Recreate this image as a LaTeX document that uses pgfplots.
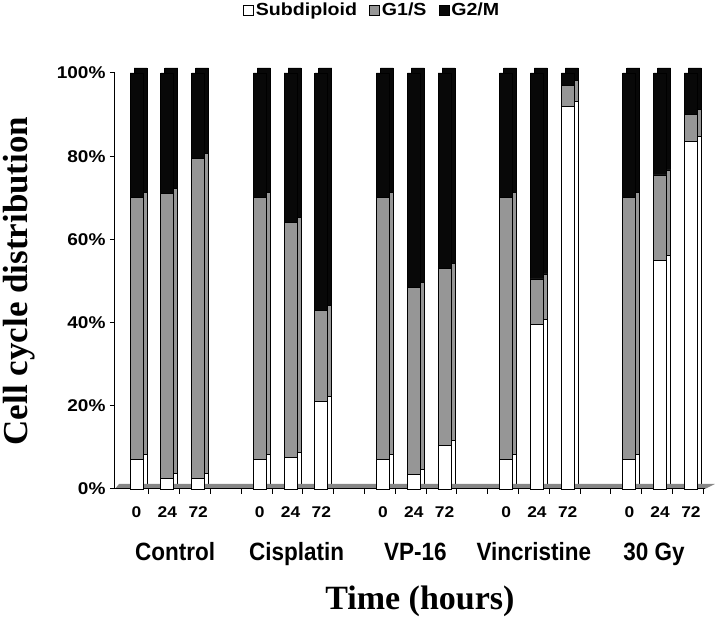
\documentclass[border=0pt]{standalone}
\usepackage{pgfplots}
\pgfplotsset{compat=1.18}
\usepackage{fontspec}
\setmainfont{Liberation Serif}
\newfontfamily\sfnar[FakeStretch=0.9]{Liberation Sans}
\newfontfamily\sfwide[FakeStretch=1.12]{Liberation Sans}
\definecolor{midgray}{RGB}{150,150,150}
\definecolor{nearblack}{RGB}{8,8,8}
\definecolor{floorgray}{RGB}{135,135,135}
\pgfplotstableread{
x   sub   g1s   g2m
0   7     63    30
1   2.5   68.5  29
2   2.5   77    20.5
4   7     63    30
5   7.5   56.5  36
6   21    22    57
8   7     63    30
9   3.5   45    51.5
10  10.5  42.5  47
12  7     63    30
13  39.5  11    49.5
14  92    5     3
16  7     63    30
17  55    20.5  24.5
18  83.5  6.5   10
}\cyc
\pgfplotsset{
  common/.style={
    scale only axis, width=589.8pt, height=416pt,
    xmin=-0.7, xmax=18.45, ymin=0, ymax=100,
    clip=false, ybar stacked, bar width=13pt,
    every axis plot/.append style={draw=black, line width=0.8pt},
  }
}
\begin{document}
\begin{tikzpicture}
\path[use as bounding box] (0pt,0pt) rectangle (720pt,623pt);
% back faces (3D depth)
\begin{axis}[common, at={(119pt,139pt)}, anchor=south west, hide axis]
\fill[floorgray] ([xshift=-4pt,yshift=-5pt]axis cs:-0.7,0) -- ([xshift=-4pt,yshift=-5pt]axis cs:18.45,0) -- ([xshift=6pt]axis cs:18.45,0) -- (axis cs:-0.7,0) -- cycle;
\addplot[fill=white] table[x=x,y=sub] {\cyc};
\addplot[fill=midgray] table[x=x,y=g1s] {\cyc};
\addplot[fill=nearblack] table[x=x,y=g2m] {\cyc};
\end{axis}
% front faces
\begin{axis}[common,
  at={(115pt,134pt)}, anchor=south west,
  axis x line=bottom, axis y line=left,
  axis line style={-, line width=1pt},
  xtick={0.4,1.4,...,18.4}, xticklabels={},
  extra x ticks={0,1,2,4,5,6,8,9,10,12,13,14,16,17,18},
  extra x tick labels={0,24,72,0,24,72,0,24,72,0,24,72,0,24,72},
  extra x tick style={major tick length=0pt, tick label style={font=\sfwide\bfseries\fontsize{15.5}{17}\selectfont, anchor=base, yshift=-29pt}},
  ytick={0,20,40,60,80,100},
  yticklabel={\pgfmathprintnumber{\tick}\%},
  /pgf/number format/assume math mode=true,
  tick style={black, line width=1pt},
  tick align=outside, major tick length=5pt,
  y tick label style={font=\sfwide\bfseries\fontsize{17}{19}\selectfont, xshift=-1pt},
  ylabel={\textbf{Cell cycle distribution}},
  ylabel style={font=\fontsize{35}{38}\selectfont, at={(axis description cs:-0.1625,0.50)}, anchor=center},
  legend columns=3,
  legend style={at={(axis description cs:0.436,1.151)}, anchor=center, draw=none, fill=none,
    font=\sfwide\bfseries\fontsize{17.5}{19}\selectfont,
    /tikz/every even column/.append style={column sep=10pt}},
  legend image code/.code={\draw[#1,draw=black,line width=0.8pt] (0pt,-5pt) rectangle (10pt,5pt);},
]
\addplot[fill=white] table[x=x,y=sub] {\cyc};
\addplot[fill=midgray] table[x=x,y=g1s] {\cyc};
\addplot[fill=nearblack] table[x=x,y=g2m] {\cyc};
\legend{Subdiploid, G1/S, G2/M}
\node[font=\sfnar\bfseries\fontsize{25}{28}\selectfont, anchor=base] at ([yshift=-72pt]axis cs:1.25,0) {Control};
\node[font=\sfnar\bfseries\fontsize{25}{28}\selectfont, anchor=base] at ([yshift=-72pt]axis cs:5.2,0) {Cisplatin};
\node[font=\sfnar\bfseries\fontsize{25}{28}\selectfont, anchor=base] at ([yshift=-72pt]axis cs:9.05,0) {VP-16};
\node[font=\sfnar\bfseries\fontsize{25}{28}\selectfont, anchor=base] at ([yshift=-72pt]axis cs:12.9,0) {Vincristine};
\node[font=\sfnar\bfseries\fontsize{25}{28}\selectfont, anchor=base] at ([yshift=-72pt]axis cs:16.8,0) {30 Gy};
\node[font=\bfseries\fontsize{34}{38}\selectfont, anchor=base] at ([yshift=-121pt]axis cs:9.2,0) {Time (hours)};
\end{axis}
\end{tikzpicture}
\end{document}
